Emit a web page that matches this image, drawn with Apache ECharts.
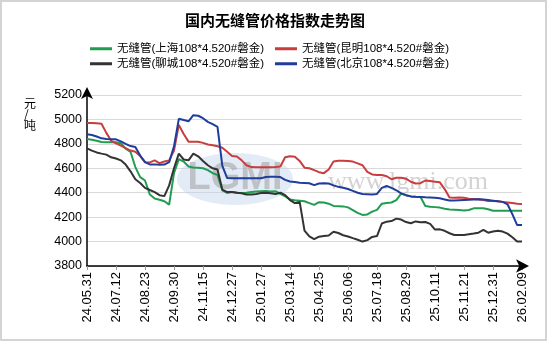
<!DOCTYPE html>
<html><head><meta charset="utf-8">
<script src="https://cdn.jsdelivr.net/npm/echarts@6/dist/echarts.min.js"></script>
<style>html,body{margin:0;padding:0;background:#fff}#c{width:550px;height:350px}</style>
</head><body><div id="c"></div>
<script>
const titleText = '国内无缝管价格指数走势图';
const unitText = '元\n/\n吨';
const seriesNames = ['无缝管(上海108*4.520#磐金)','无缝管(昆明108*4.520#磐金)','无缝管(聊城108*4.520#磐金)','无缝管(北京108*4.520#磐金)'];
const categories = ['24.05.31','24.06.07','24.06.14','24.06.21','24.06.28','24.07.05','24.07.12','24.07.19','24.07.26','24.08.02','24.08.09','24.08.16','24.08.23','24.08.30','24.09.06','24.09.13','24.09.20','24.09.25','24.09.30','24.10.11','24.10.18','24.10.25','24.11.01','24.11.08','24.11.15','24.11.22','24.11.29','24.12.06','24.12.13','24.12.20','24.12.27','25.01.03','25.01.08','25.01.13','25.01.17','25.01.22','25.01.27','25.02.07','25.02.14','25.02.21','25.02.28','25.03.07','25.03.14','25.03.21','25.03.28','25.04.03','25.04.11','25.04.18','25.04.25','25.05.08','25.05.15','25.05.21','25.05.27','25.05.30','25.06.06','25.06.13','25.06.20','25.06.27','25.07.04','25.07.11','25.07.18','25.07.25','25.08.01','25.08.08','25.08.15','25.08.22','25.08.29','25.09.05','25.09.12','25.09.19','25.09.26','25.09.30','25.10.11','25.10.17','25.10.24','25.10.31','25.11.07','25.11.14','25.11.21','25.11.28','25.12.05','25.12.12','25.12.19','25.12.25','25.12.31','26.01.08','26.01.15','26.01.22','26.01.29','26.02.03','26.02.09'];
const shanghai = [4840,4834,4826,4815,4813,4813,4813,4805,4760,4735,4610,4528,4500,4385,4352,4343,4330,4302,4560,4675,4655,4615,4606,4605,4600,4585,4560,4545,4420,4398,4405,4400,4398,4400,4405,4410,4412,4414,4410,4412,4390,4370,4345,4338,4335,4330,4315,4300,4322,4320,4310,4292,4290,4288,4280,4258,4235,4218,4222,4245,4260,4310,4316,4320,4340,4392,4380,4370,4367,4365,4292,4285,4282,4278,4268,4262,4260,4258,4255,4258,4272,4272,4272,4265,4253,4252,4252,4252,4252,4252,4252];
const kunming = [4970,4970,4968,4965,4890,4825,4805,4785,4765,4745,4735,4700,4650,4648,4665,4642,4655,4665,4745,4955,4880,4818,4818,4818,4808,4795,4788,4780,4768,4735,4700,4697,4665,4625,4610,4608,4608,4608,4608,4610,4615,4690,4698,4695,4660,4605,4600,4585,4568,4560,4590,4655,4662,4662,4660,4655,4640,4625,4570,4550,4545,4545,4535,4510,4522,4522,4515,4490,4475,4478,4500,4495,4490,4485,4430,4360,4358,4360,4358,4350,4348,4346,4340,4332,4332,4330,4325,4320,4315,4310,4308];
const liaocheng = [4763,4745,4730,4720,4712,4690,4680,4665,4630,4575,4510,4480,4440,4422,4405,4380,4372,4460,4600,4720,4672,4665,4720,4698,4660,4625,4600,4590,4425,4405,4405,4400,4395,4385,4385,4390,4398,4400,4395,4390,4400,4380,4340,4315,4325,4090,4042,4020,4040,4045,4050,4080,4070,4052,4042,4028,4015,4000,4012,4038,4045,4148,4163,4168,4188,4180,4160,4150,4165,4158,4160,4145,4098,4100,4088,4068,4054,4054,4054,4060,4066,4073,4095,4073,4082,4089,4082,4065,4035,4000,4000];
const beijing = [4878,4872,4860,4845,4840,4838,4837,4820,4800,4782,4775,4705,4650,4632,4632,4628,4630,4650,4780,5005,4995,4985,5035,5030,5010,4980,4962,4940,4620,4520,4518,4518,4518,4518,4518,4518,4518,4528,4530,4530,4528,4505,4492,4488,4482,4480,4477,4462,4475,4478,4475,4460,4448,4440,4430,4415,4400,4390,4388,4385,4390,4440,4455,4440,4420,4395,4380,4370,4367,4365,4362,4360,4358,4354,4345,4336,4336,4338,4340,4342,4345,4346,4345,4340,4335,4330,4325,4305,4225,4135,4135];
const colors = ['#1f9e4f','#c93d3d','#333333','#1f3d9c'];

const FF = '"Liberation Sans", Arial, "Noto Sans CJK SC", sans-serif';
const chart = echarts.init(document.getElementById('c'), null, {renderer:'canvas'});
const allSeries = [shanghai, kunming, liaocheng, beijing];
const legendText = { fontSize: 11.5, color: '#000', fontFamily: FF };
const option = {
  backgroundColor: '#fff',
  animation: false,
  title: { text: titleText, left: 'center', top: 8, textStyle: { fontSize: 15, fontWeight: 'bold', color: '#000', fontFamily: '"Noto Sans CJK SC", sans-serif' } },
  legend: [
    { data: [seriesNames[0], seriesNames[1]], left: 90, top: 43, itemGap: 11, itemWidth: 22, itemHeight: 3, icon: 'rect', padding: 0, textStyle: legendText },
    { data: [seriesNames[2], seriesNames[3]], left: 90, top: 58, itemGap: 11, itemWidth: 22, itemHeight: 3, icon: 'rect', padding: 0, textStyle: legendText }
  ],
  grid: { left: 87, right: 28, top: 95, bottom: 84, containLabel: false },
  xAxis: {
    type: 'category', data: categories, boundaryGap: false,
    axisLine: { lineStyle: { color: '#000', width: 1.5 }, symbol: ['none','arrow'], symbolSize: [10, 13], symbolOffset: [0, 7] },
    axisTick: { show: true, interval: 5, length: 4, lineStyle: { color: '#999' } },
    axisLabel: { interval: 5, rotate: 90, fontSize: 13, color: '#000', fontFamily: FF, margin: 6 },
    splitLine: { show: false }
  },
  yAxis: {
    type: 'value', min: 3800, max: 5200, interval: 200,
    axisLine: { show: true, lineStyle: { color: '#000', width: 1.5 }, symbol: ['none','arrow'], symbolSize: [9, 12], symbolOffset: [0, 8] },
    axisTick: { show: false },
    axisLabel: { fontSize: 12.5, color: '#000', fontFamily: FF, margin: 5, formatter: v => String(v) },
    splitLine: { lineStyle: { color: '#d9d9d9', width: 1 } }
  },
  graphic: [
    { type: 'rect', shape: { x: 1, y: 1, width: 545, height: 339 }, style: { fill: 'none', stroke: '#d4d4d4', lineWidth: 2 }, silent: true },
    { type: 'text', left: 24, top: 97, style: { text: unitText, fontSize: 12, lineHeight: 11, fill: '#000', fontFamily: '"Noto Sans CJK SC", sans-serif', align: 'center' } },
    { type: 'ellipse', shape: { cx: 235, cy: 179, rx: 58, ry: 26 }, style: { fill: 'rgba(190,210,235,0.45)' }, z: 1, silent: true },
    { type: 'text', x: 235, y: 179, style: { text: 'LGMI', fontSize: 38, fontWeight: 'bold', fill: 'rgba(160,160,160,0.55)', align: 'center', verticalAlign: 'middle', fontFamily: '"Liberation Sans", Arial' }, z: 1, silent: true },
    { type: 'text', x: 408, y: 182, style: { text: 'www.lgmi.com', fontSize: 26, fill: 'rgba(175,175,175,0.55)', align: 'center', verticalAlign: 'middle', fontFamily: '"Liberation Serif", serif' }, z: 1, silent: true }
  ],
  series: allSeries.map((d, i) => ({
    name: seriesNames[i], type: 'line', data: d, showSymbol: false, symbol: 'none',
    lineStyle: { width: 2, color: colors[i] }, itemStyle: { color: colors[i] }, z: 3
  }))
};
chart.setOption(option);
</script></body></html>
